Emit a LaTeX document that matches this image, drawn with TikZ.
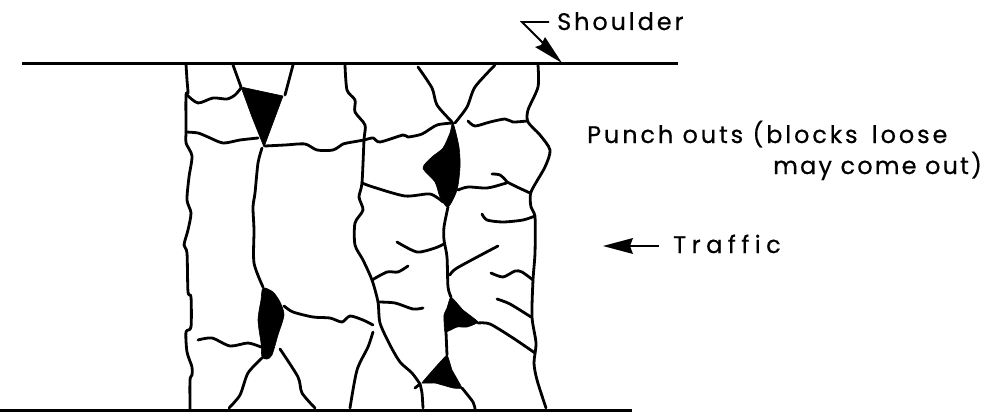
\documentclass[tikz,border=0pt]{standalone}
\usepackage{fontspec}
\newfontfamily\lblfont[LetterSpace=12,FakeBold=0.5]{Poppins}
\newfontfamily\lblnarrow[LetterSpace=9,FakeBold=0.5]{Poppins}
\newfontfamily\lblwide[LetterSpace=23,FakeBold=0.5]{Poppins}
\begin{document}
\begin{tikzpicture}[x=1pt,y=-1pt,
  crack/.style={line width=2.8pt,line cap=round,line join=round,smooth,tension=0.45},
  edgeline/.style={line width=3pt},
  spall/.style={fill=black,draw=black,line width=0.6pt,line join=round},
  lbl/.style={inner sep=0pt,font=\fontsize{24}{28}\selectfont\lblfont,anchor=base west}]
\useasboundingbox (0,0) rectangle (983,412);
% shoulders
\coordinate (t1) at (22,64); \coordinate (t2) at (678,64);
\coordinate (b1) at (0,410); \coordinate (b2) at (632,410);
\draw[edgeline] (t1) -- (t2);
\draw[edgeline] (b1) -- (b2);
% punch-outs
\fill[spall] (241,87) -- (283,96) -- (264,147) -- (252,117) -- cycle;
\fill[spall] plot[smooth cycle,tension=0.45] coordinates {(453,123) (459,147) (460,167) (457,190) (448,207) (440,197) (435,182) (423,168) (432,157) (443,148) (450,133)};
\fill[spall] plot[smooth cycle,tension=0.45] coordinates {(263,288) (273,292) (280,302) (284,315) (278,335) (272,355) (267,359) (262,357) (261,343) (258,320) (261,300)};
\fill[spall] plot[smooth cycle,tension=0.25] coordinates {(451,297) (463,310) (478,322) (467,327) (457,327) (445,332) (444,315) (447,308)};
\fill[spall] plot[smooth cycle,tension=0.15] coordinates {(447,355) (452,370) (462,388) (453,388) (435,383) (422,383) (433,370)};
% long cracks
\draw[crack] plot coordinates {(186,64) (187,80) (188,93) (186,95) (186,132) (186,143) (192,156) (189,177) (187,200) (191,213) (188,230) (184,245) (187,253) (188,292) (191,297) (191,327) (186,332) (187,352) (192,367) (192,375) (190,380) (190,409)};
\draw[crack] plot coordinates {(187,95) (198,103) (213,98) (227,99) (235,95) (241,88)};
\draw[crack] plot coordinates {(186,132) (198,133) (208,137) (223,143) (240,140) (258,138)};
\draw[crack] plot coordinates {(265,146) (285,145) (305,144) (317,150) (333,150) (343,144) (347,143) (364,140) (373,138) (380,142) (403,135) (408,137) (422,134) (437,125) (453,123)};
\draw[crack] plot coordinates {(233,65) (241,87)};
\draw[crack] plot coordinates {(293,65) (285,95)};
\draw[crack] plot coordinates {(262,148) (258,163) (255,193) (253,207) (254,230) (254,263) (263,287)};
\draw[crack] plot coordinates {(262,358) (248,373) (240,395) (229,408)};
\draw[crack] plot coordinates {(198,340) (212,338) (230,346) (248,343) (261,347)};
\draw[crack] plot coordinates {(280,349) (298,377) (302,393) (315,408)};
\draw[crack] plot coordinates {(284,306) (293,312) (313,317) (330,318) (342,322) (350,316) (363,320) (373,325)};
\draw[crack] plot coordinates {(373,332) (368,347) (357,370) (350,408)};
\draw[crack] plot coordinates {(345,65) (347,90) (355,100) (355,112) (365,125) (364,140) (362,183) (359,197) (363,210) (355,223) (355,245) (363,260) (372,280) (378,302) (380,323) (390,345) (400,362) (412,373) (420,384)};
\draw[crack] plot coordinates {(372,280) (387,272) (398,272) (408,266)};
\draw[crack] plot coordinates {(378,302) (395,303) (413,309) (423,308)};
\draw[crack] plot coordinates {(397,242) (417,252) (435,248) (444,244)};
\draw[crack] plot coordinates {(362,183) (373,187) (405,196) (430,194) (443,202)};
\draw[crack] plot coordinates {(418,67) (432,88) (437,105) (452,122)};
\draw[crack] plot coordinates {(495,65) (475,87) (467,107) (455,123)};
\draw[crack] plot coordinates {(458,190) (468,187) (487,188) (503,184) (507,182) (500,175) (492,174)};
\draw[crack] plot coordinates {(507,182) (517,187) (530,193)};
\draw[crack] plot coordinates {(468,121) (475,126) (490,122) (505,119) (513,122) (527,121)};
\draw[crack] plot coordinates {(538,65) (538,87) (528,110) (528,122) (540,135) (550,150) (545,167) (531,192) (531,207) (535,217) (535,253) (533,280) (532,317) (536,343) (534,363) (537,380) (546,408)};
\draw[crack] plot coordinates {(482,214) (487,220) (503,222) (523,220) (535,216)};
\draw[crack] plot coordinates {(448,207) (444,227) (444,240) (447,257) (448,287) (451,297)};
\draw[crack] plot coordinates {(450,275) (457,268) (498,246)};
\draw[crack] plot coordinates {(478,323) (490,324) (513,338) (535,353)};
\draw[crack] plot coordinates {(446,332) (447,355)};
\draw[crack] plot coordinates {(462,388) (473,402) (475,409)};
\draw[crack] plot coordinates {(420,384) (415,388)};
\draw[crack] plot coordinates {(420,384) (422,393) (423,408)};
\draw[crack] plot coordinates {(491,273) (503,277) (515,271) (522,272) (533,280)};
\draw[crack] plot coordinates {(497,299) (510,304) (531,317)};
% labels
\node[lbl] (shoulder) at (557,30) {Shoulder};
\node[lbl] (punch) at (587,143) {Punch outs (blocks\hspace{5pt} loose};
\node[lbl,font=\fontsize{24}{28}\selectfont\lblnarrow] (comeout) at (773,174) {may come out)};
\node[lbl,font=\fontsize{24}{28}\selectfont\lblwide] (traffic) at (673,253) {Traffic};
% shoulder leader
\coordinate (sa) at (549,22); \coordinate (sb) at (522,22); \coordinate (sc) at (543,43); \coordinate (sd) at (562,63);
\draw[line width=1.8pt] (sa) -- (sb) -- (sc);
\fill (sd) -- (535,47) -- (541,45) -- (545,37) -- cycle;
% traffic arrow
\coordinate (ta) at (659,246); \coordinate (tb) at (603,246);
\draw[line width=1.8pt] (ta) -- (625,246);
\fill (tb) -- (633,238) -- (630,246) -- (633,254) -- cycle;
\end{tikzpicture}
\end{document}
